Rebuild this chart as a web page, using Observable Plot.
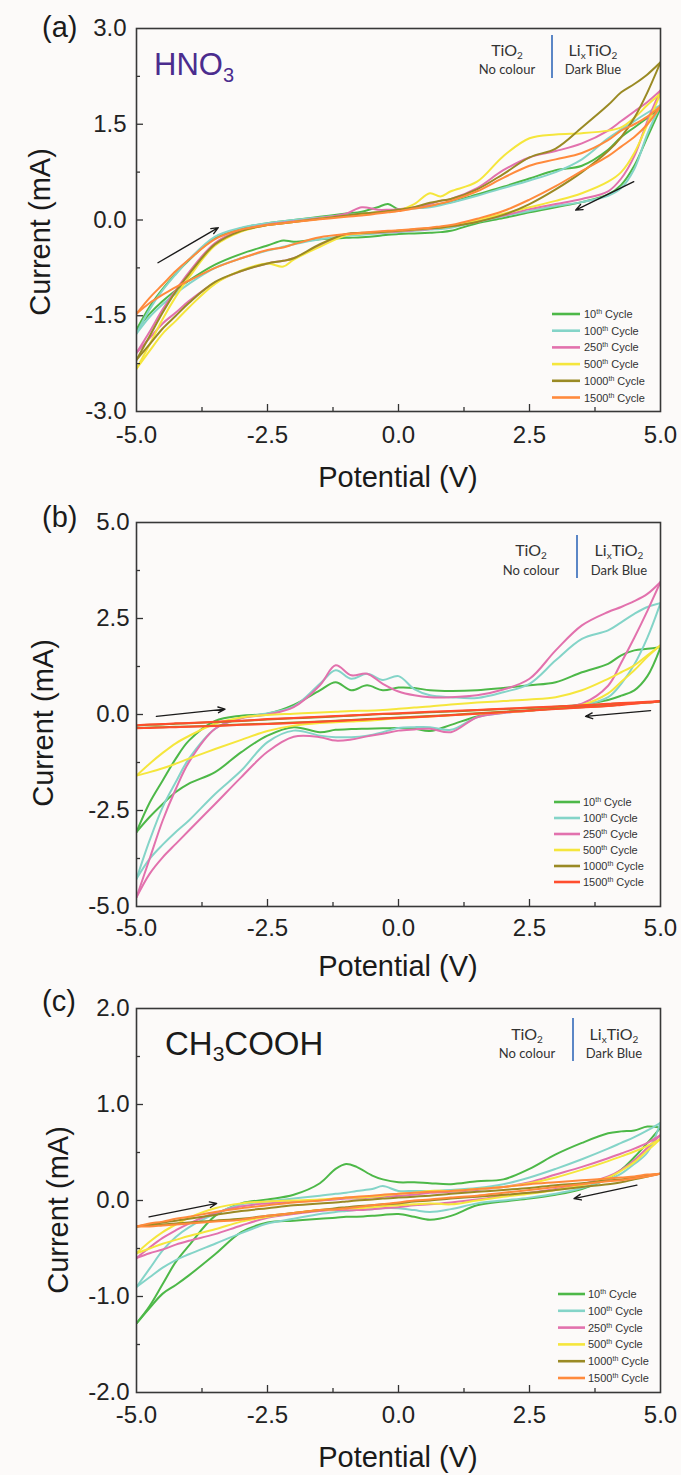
<!DOCTYPE html>
<html>
<head>
<meta charset="utf-8">
<script src="https://cdn.jsdelivr.net/npm/d3@7"></script>
<script src="https://cdn.jsdelivr.net/npm/@observablehq/plot@0.6"></script>
<style>
html, body { margin: 0; padding: 0; background: #ffffff; }
#chart { width: 681px; }
#chart svg { display: block; }
</style>
</head>
<body>
<div id="chart"></div>
<script>
// ---------- shared ----------
const cycles = ["10", "100", "250", "500", "1000", "1500"];
const xTicks = [-5, -2.5, 0, 2.5, 5];
const xMajorInner = [-2.5, 0, 2.5];
const xMinor = [-3.75, -1.25, 1.25, 3.75];
const coloursA = ["#4db848", "#84d4c8", "#e271ad", "#f5e63c", "#9a8a24", "#ff8a3c"];
const coloursB = ["#4db848", "#84d4c8", "#e271ad", "#f5e63c", "#9a8a24", "#ff4d2e"];
const coloursC = ["#4db848", "#84d4c8", "#e271ad", "#f5e63c", "#9a8a24", "#ff8a3c"];

// ---------- panel (a) HNO3 ----------
const potA = [-5, -4.75, -4.5, -4.25, -4, -3.5, -3, -2.5, -2.2, -2, -1.5, -1, -0.7, -0.4, -0.2, 0, 0.3, 0.6, 0.8, 1, 1.5, 2, 2.5, 3, 3.5, 4, 4.25, 4.5, 4.75, 5];
const yTicksA = [-3, -1.5, 0, 1.5, 3];
const yMinorA = [-2.25, -0.75, 0.75, 2.25];
const a10f = [-1.72, -1.36, -1.08, -0.84, -0.63, -0.28, -0.13, -0.05, -0.02, 0.0, 0.05, 0.1, 0.13, 0.2, 0.25, 0.17, 0.19, 0.22, 0.25, 0.28, 0.4, 0.52, 0.65, 0.78, 0.85, 1.1, 1.3, 1.45, 1.6, 1.75];
const a10r = [-1.72, -1.47, -1.27, -1.1, -0.95, -0.7, -0.53, -0.4, -0.32, -0.34, -0.3, -0.28, -0.27, -0.25, -0.23, -0.22, -0.21, -0.2, -0.19, -0.17, -0.05, 0.03, 0.12, 0.2, 0.28, 0.4, 0.55, 0.85, 1.3, 1.75];
const a100f = [-1.78, -1.4, -1.1, -0.85, -0.62, -0.26, -0.12, -0.05, -0.02, 0.0, 0.04, 0.08, 0.1, 0.12, 0.14, 0.16, 0.18, 0.2, 0.23, 0.27, 0.38, 0.5, 0.62, 0.75, 0.95, 1.28, 1.42, 1.55, 1.68, 1.8];
const a100r = [-1.78, -1.52, -1.32, -1.15, -1.0, -0.75, -0.6, -0.48, -0.42, -0.38, -0.3, -0.25, -0.23, -0.21, -0.2, -0.19, -0.17, -0.15, -0.14, -0.12, -0.03, 0.06, 0.14, 0.22, 0.28, 0.38, 0.5, 0.8, 1.35, 1.8];
const a250f = [-2.08, -1.75, -1.4, -1.1, -0.82, -0.36, -0.16, -0.07, -0.04, -0.02, 0.03, 0.1, 0.2, 0.16, 0.16, 0.17, 0.2, 0.25, 0.3, 0.33, 0.5, 0.78, 0.98, 1.08, 1.2, 1.4, 1.55, 1.7, 1.85, 2.03];
const a250r = [-2.08, -1.85, -1.62, -1.45, -1.27, -0.98, -0.8, -0.68, -0.64, -0.6, -0.4, -0.23, -0.21, -0.2, -0.19, -0.18, -0.16, -0.14, -0.12, -0.1, -0.02, 0.07, 0.17, 0.25, 0.33, 0.45, 0.65, 1.0, 1.55, 2.03];
const a500f = [-2.33, -1.95, -1.55, -1.2, -0.9, -0.4, -0.18, -0.08, -0.05, -0.03, 0.02, 0.06, 0.09, 0.12, 0.13, 0.15, 0.25, 0.42, 0.37, 0.45, 0.6, 1.0, 1.28, 1.34, 1.36, 1.4, 1.45, 1.6, 1.8, 1.98];
const a500r = [-2.33, -2.05, -1.78, -1.58, -1.37, -1.0, -0.79, -0.68, -0.73, -0.62, -0.42, -0.24, -0.21, -0.19, -0.18, -0.17, -0.15, -0.13, -0.12, -0.1, 0.0, 0.1, 0.2, 0.3, 0.42, 0.6, 0.75, 1.05, 1.5, 1.98];
const a1000f = [-2.19, -1.82, -1.45, -1.12, -0.85, -0.38, -0.17, -0.08, -0.05, -0.03, 0.02, 0.07, 0.1, 0.12, 0.14, 0.16, 0.2, 0.27, 0.3, 0.33, 0.48, 0.72, 0.98, 1.12, 1.45, 1.8, 2.0, 2.13, 2.28, 2.47];
const a1000r = [-2.19, -1.95, -1.7, -1.5, -1.3, -0.97, -0.8, -0.68, -0.64, -0.6, -0.38, -0.22, -0.2, -0.19, -0.18, -0.17, -0.15, -0.13, -0.12, -0.1, -0.03, 0.08, 0.25, 0.48, 0.75, 1.08, 1.3, 1.6, 2.0, 2.47];
const a1500f = [-1.47, -1.22, -1.01, -0.8, -0.62, -0.3, -0.15, -0.08, -0.05, -0.03, 0.01, 0.05, 0.07, 0.1, 0.12, 0.14, 0.18, 0.22, 0.26, 0.3, 0.45, 0.66, 0.85, 0.95, 1.05, 1.25, 1.4, 1.5, 1.62, 1.78];
const a1500r = [-1.47, -1.3, -1.17, -1.05, -0.95, -0.75, -0.6, -0.47, -0.43, -0.38, -0.27, -0.22, -0.2, -0.18, -0.17, -0.16, -0.14, -0.12, -0.1, -0.08, 0.02, 0.14, 0.32, 0.53, 0.77, 1.0, 1.15, 1.3, 1.5, 1.78];
const arrowsA = [[-4.59, -0.67, -3.44, -0.12], [4.49, 0.6, 3.38, 0.155]];

// ---------- panel (b) ----------
const potB = [-5, -4.75, -4.5, -4.25, -4, -3.5, -3, -2.5, -2, -1.5, -1.2, -0.9, -0.6, -0.3, 0, 0.3, 0.6, 1, 1.5, 2, 2.5, 3, 3.5, 4, 4.25, 4.5, 4.75, 5];
const yTicksB = [-5, -2.5, 0, 2.5, 5];
const yMinorB = [-3.75, -1.25, 1.25, 3.75];
const b10f = [-3.06, -2.3, -1.72, -1.15, -0.68, -0.17, -0.03, 0.02, 0.25, 0.63, 0.84, 0.63, 0.76, 0.63, 0.7, 0.69, 0.63, 0.61, 0.63, 0.69, 0.76, 0.84, 1.1, 1.32, 1.54, 1.67, 1.71, 1.75];
const b10r = [-3.06, -2.67, -2.33, -2.02, -1.8, -1.5, -0.98, -0.55, -0.33, -0.46, -0.4, -0.38, -0.37, -0.36, -0.35, -0.37, -0.43, -0.27, -0.05, 0.06, 0.1, 0.19, 0.26, 0.38, 0.49, 0.63, 1.0, 1.75];
const b100f = [-4.28, -3.28, -2.41, -1.76, -1.15, -0.37, -0.09, 0.03, 0.21, 0.8, 1.15, 0.93, 1.06, 0.9, 1.0, 0.66, 0.5, 0.45, 0.43, 0.58, 0.8, 1.41, 1.97, 2.19, 2.4, 2.62, 2.8, 2.9];
const b100r = [-4.28, -3.76, -3.39, -3.06, -2.76, -2.07, -1.46, -0.72, -0.42, -0.55, -0.59, -0.59, -0.55, -0.46, -0.35, -0.33, -0.33, -0.4, -0.07, 0.04, 0.1, 0.16, 0.23, 0.45, 0.8, 1.3, 2.0, 2.9];
const b250f = [-4.76, -3.76, -2.76, -1.94, -1.24, -0.37, -0.1, 0.0, 0.19, 0.76, 1.28, 1.02, 1.06, 0.8, 0.6, 0.5, 0.45, 0.45, 0.5, 0.65, 0.93, 1.67, 2.32, 2.67, 2.8, 2.95, 3.14, 3.45];
const b250r = [-4.76, -4.15, -3.72, -3.37, -3.02, -2.33, -1.63, -0.97, -0.58, -0.59, -0.68, -0.65, -0.57, -0.5, -0.42, -0.39, -0.37, -0.46, -0.07, 0.04, 0.1, 0.17, 0.28, 0.75, 1.35, 2.0, 2.7, 3.45];
const b500f = [-1.59, -1.28, -1.0, -0.75, -0.56, -0.24, -0.08, -0.01, 0.02, 0.05, 0.07, 0.09, 0.1, 0.12, 0.15, 0.18, 0.21, 0.26, 0.31, 0.35, 0.39, 0.45, 0.63, 0.93, 1.1, 1.28, 1.54, 1.8];
const b500r = [-1.59, -1.5, -1.4, -1.28, -1.15, -0.9, -0.66, -0.43, -0.29, -0.22, -0.2, -0.18, -0.16, -0.13, -0.1, -0.08, -0.05, -0.02, 0.02, 0.06, 0.1, 0.17, 0.25, 0.55, 0.85, 1.15, 1.5, 1.8];
const b1000f = [-0.29, -0.27, -0.26, -0.24, -0.23, -0.2, -0.17, -0.13, -0.1, -0.07, -0.05, -0.03, -0.01, 0.01, 0.02, 0.04, 0.06, 0.08, 0.11, 0.14, 0.17, 0.2, 0.23, 0.27, 0.29, 0.3, 0.32, 0.34];
const b1000r = [-0.35, -0.34, -0.33, -0.32, -0.31, -0.29, -0.26, -0.24, -0.21, -0.18, -0.16, -0.14, -0.12, -0.1, -0.08, -0.06, -0.04, -0.01, 0.03, 0.07, 0.11, 0.15, 0.19, 0.23, 0.26, 0.29, 0.31, 0.34];
const b1500f = [-0.28, -0.26, -0.25, -0.23, -0.22, -0.19, -0.16, -0.12, -0.09, -0.06, -0.04, -0.02, 0.0, 0.02, 0.03, 0.05, 0.07, 0.09, 0.12, 0.15, 0.18, 0.21, 0.24, 0.28, 0.3, 0.31, 0.33, 0.35];
const b1500r = [-0.36, -0.35, -0.34, -0.33, -0.32, -0.3, -0.27, -0.25, -0.22, -0.19, -0.17, -0.15, -0.13, -0.11, -0.09, -0.07, -0.05, -0.02, 0.02, 0.06, 0.1, 0.14, 0.18, 0.22, 0.25, 0.28, 0.31, 0.35];
const arrowsB = [[-4.62, -0.05, -3.31, 0.14], [4.81, 0.1, 3.57, -0.05]];

// ---------- panel (c) CH3COOH ----------
const potC = [-5, -4.75, -4.5, -4.25, -4, -3.5, -3, -2.5, -2, -1.5, -1.2, -1, -0.8, -0.5, -0.3, 0, 0.3, 0.6, 1, 1.5, 2, 2.5, 3, 3.5, 4, 4.25, 4.5, 4.75, 5];
const yTicksC = [-2, -1, 0, 1, 2];
const yMinorC = [-1.5, -0.5, 0.5, 1.5];
const c10f = [-1.28, -1.1, -0.87, -0.64, -0.47, -0.16, -0.03, 0.01, 0.06, 0.18, 0.33, 0.38, 0.35, 0.26, 0.22, 0.19, 0.19, 0.18, 0.17, 0.2, 0.22, 0.33, 0.48, 0.6, 0.7, 0.72, 0.73, 0.77, 0.76];
const c10r = [-1.28, -1.12, -0.97, -0.88, -0.78, -0.56, -0.33, -0.23, -0.21, -0.19, -0.18, -0.17, -0.17, -0.16, -0.15, -0.14, -0.17, -0.2, -0.16, -0.05, -0.01, 0.02, 0.06, 0.12, 0.23, 0.32, 0.45, 0.6, 0.76];
const c100f = [-0.9, -0.71, -0.52, -0.38, -0.28, -0.14, -0.04, -0.01, 0.02, 0.05, 0.07, 0.08, 0.1, 0.12, 0.15, 0.1, 0.1, 0.1, 0.11, 0.13, 0.17, 0.24, 0.33, 0.43, 0.54, 0.6, 0.66, 0.73, 0.81];
const c100r = [-0.9, -0.8, -0.7, -0.62, -0.56, -0.45, -0.34, -0.24, -0.19, -0.14, -0.12, -0.11, -0.1, -0.09, -0.08, -0.08, -0.1, -0.12, -0.09, -0.03, 0.0, 0.03, 0.07, 0.13, 0.22, 0.28, 0.38, 0.5, 0.81];
const c250f = [-0.6, -0.49, -0.39, -0.31, -0.24, -0.13, -0.06, -0.03, -0.01, 0.0, 0.01, 0.02, 0.02, 0.03, 0.04, 0.05, 0.06, 0.08, 0.09, 0.11, 0.14, 0.19, 0.27, 0.35, 0.44, 0.49, 0.54, 0.6, 0.68];
const c250r = [-0.6, -0.55, -0.51, -0.46, -0.42, -0.35, -0.26, -0.18, -0.14, -0.11, -0.1, -0.1, -0.1, -0.09, -0.08, -0.07, -0.05, -0.04, -0.02, 0.01, 0.05, 0.08, 0.12, 0.17, 0.25, 0.32, 0.42, 0.55, 0.68];
const c500f = [-0.55, -0.43, -0.33, -0.25, -0.18, -0.08, -0.03, -0.01, 0.0, 0.01, 0.02, 0.03, 0.03, 0.04, 0.05, 0.07, 0.08, 0.1, 0.1, 0.12, 0.14, 0.18, 0.24, 0.32, 0.41, 0.46, 0.51, 0.57, 0.64];
const c500r = [-0.55, -0.5, -0.45, -0.41, -0.37, -0.3, -0.22, -0.17, -0.13, -0.1, -0.09, -0.08, -0.08, -0.07, -0.06, -0.05, -0.04, -0.03, -0.04, 0.0, 0.04, 0.07, 0.11, 0.16, 0.24, 0.31, 0.4, 0.52, 0.64];
const c1000f = [-0.27, -0.25, -0.23, -0.21, -0.19, -0.15, -0.11, -0.08, -0.05, -0.03, -0.02, -0.01, 0.0, 0.01, 0.02, 0.03, 0.04, 0.05, 0.07, 0.09, 0.11, 0.13, 0.16, 0.18, 0.21, 0.22, 0.24, 0.26, 0.28];
const c1000r = [-0.27, -0.26, -0.25, -0.24, -0.23, -0.21, -0.19, -0.16, -0.13, -0.1, -0.08, -0.07, -0.06, -0.05, -0.04, -0.03, -0.01, 0.0, 0.02, 0.04, 0.06, 0.08, 0.11, 0.14, 0.17, 0.19, 0.22, 0.25, 0.28];
const c1500f = [-0.27, -0.24, -0.22, -0.19, -0.17, -0.12, -0.08, -0.05, -0.02, 0.0, 0.02, 0.03, 0.04, 0.05, 0.06, 0.07, 0.08, 0.09, 0.1, 0.12, 0.14, 0.17, 0.19, 0.21, 0.23, 0.24, 0.25, 0.27, 0.28];
const c1500r = [-0.27, -0.27, -0.26, -0.25, -0.24, -0.22, -0.2, -0.16, -0.13, -0.1, -0.09, -0.08, -0.07, -0.05, -0.04, -0.02, 0.0, 0.01, 0.03, 0.05, 0.08, 0.11, 0.14, 0.17, 0.2, 0.21, 0.23, 0.25, 0.28];
const arrowsC = [[-4.76, -0.17, -3.47, -0.03], [4.55, 0.16, 3.35, 0.02]];

// ---------- drawing ----------
const FONT = "'Liberation Sans', Arial, Helvetica, sans-serif";
const NOTE_FONT = "Lato, 'Open Sans', sans-serif";
const BG = "#fcfaf9";
const fmt = d => d.toFixed(1);

function drawPanel(o) {
  const W = 681, ML = 136, MR = 21;
  const pw = W - ML - MR, ph = o.height - o.mt - o.mb;
  const rows = [];
  cycles.forEach((c, k) => {
    const [f, r] = o.series[k];
    o.pot.forEach((v, i) => rows.push({V: v, I: f[i], cycle: c, key: c + "-fwd"}));
    o.pot.forEach((v, i) => rows.push({V: v, I: r[i], cycle: c, key: c + "-rev"}));
  });
  const arrows = o.arrows.map(([x1, y1, x2, y2]) => ({x1, y1, x2, y2}));
  const yMajorInner = o.yTicks.slice(1, -1);
  const svg = Plot.plot({
    width: W, height: o.height,
    marginLeft: ML, marginRight: MR, marginTop: o.mt, marginBottom: o.mb,
    style: {background: BG, fontFamily: FONT, fontSize: "24px", color: "#222"},
    x: {domain: [-5, 5], ticks: xTicks, tickFormat: fmt, tickSize: 0, tickPadding: o.xPad, label: null},
    y: {domain: [o.yTicks[0], o.yTicks[o.yTicks.length - 1]], ticks: o.yTicks, tickFormat: fmt, tickSize: 0, tickPadding: o.yPad, label: null},
    color: {domain: cycles, range: o.colours},
    marks: [
      Plot.line(rows, {x: "V", y: "I", z: "key", stroke: "cycle", strokeWidth: 2, curve: "catmull-rom", clip: true}),
      Plot.arrow(arrows, {x1: "x1", y1: "y1", x2: "x2", y2: "y2", stroke: "#1b1b1b", strokeWidth: 1.4, headLength: 8, headAngle: 45}),
      Plot.tickX(xMinor, {x: d => d, insetTop: ph - 4, stroke: "#333", strokeWidth: 1.3}),
      Plot.tickX(xMajorInner, {x: d => d, insetTop: ph - 7, stroke: "#333", strokeWidth: 1.3}),
      Plot.tickY(o.yMinor, {y: d => d, insetRight: pw - 4, stroke: "#333", strokeWidth: 1.3}),
      Plot.tickY(yMajorInner, {y: d => d, insetRight: pw - 7, stroke: "#333", strokeWidth: 1.3}),
      Plot.frame({stroke: "#383838", strokeWidth: 1.6})
    ]
  });
  const s = d3.select(svg);
  const bottom = o.height - o.mb;

  // panel letter
  s.append("text").attr("x", 42).attr("y", o.letterY).attr("text-anchor", "start").attr("font-family", FONT)
    .attr("font-size", 29).attr("fill", "#1a1a1a").text(o.letter);

  // axis titles
  s.append("text").attr("x", ML + pw / 2).attr("y", o.xTitleY).attr("text-anchor", "middle")
    .attr("font-family", FONT).attr("font-size", 29).attr("fill", "#1a1a1a").text("Potential (V)");
  s.append("text").attr("transform", `translate(${o.yTitleX},${o.yTitleCY}) rotate(-90)`)
    .attr("text-anchor", "middle").attr("font-family", FONT).attr("font-size", 29)
    .attr("fill", "#1a1a1a").text("Current (mA)");

  // electrolyte title
  if (o.title) {
    const t = s.append("text").attr("x", o.title.x).attr("y", o.title.y).attr("text-anchor", "start")
      .attr("font-family", FONT).attr("font-size", o.title.size).attr("fill", o.title.fill);
    o.title.parts.forEach(([txt, sub], i) => {
      const prevSub = i > 0 && o.title.parts[i - 1][1];
      const ts = t.append("tspan").text(txt);
      if (sub) ts.attr("font-size", Math.round(o.title.size * 0.64)).attr("dy", o.title.subDy);
      else if (prevSub) ts.attr("dy", -o.title.subDy);
    });
  }

  // TiO2 | LixTiO2 note
  const n = o.note;
  const g = s.append("g").attr("font-family", NOTE_FONT).attr("fill", "#333").attr("text-anchor", "middle");
  g.append("line").attr("x1", n.lx).attr("x2", n.lx).attr("y1", n.y1).attr("y2", n.y2)
    .attr("stroke", "#5b86c6").attr("stroke-width", 2);
  const t1 = g.append("text").attr("x", n.left).attr("y", n.b1).attr("font-size", 16);
  t1.append("tspan").text("TiO");
  t1.append("tspan").attr("font-size", 10).attr("dy", 3).text("2");
  g.append("text").attr("x", n.left).attr("y", n.b2).attr("font-size", 13).text("No colour");
  const t2 = g.append("text").attr("x", n.right).attr("y", n.b1).attr("font-size", 16);
  t2.append("tspan").text("Li");
  t2.append("tspan").attr("font-size", 10).attr("dy", 3).text("x");
  t2.append("tspan").attr("dy", -3).text("TiO");
  t2.append("tspan").attr("font-size", 10).attr("dy", 3).text("2");
  g.append("text").attr("x", n.right).attr("y", n.b2).attr("font-size", 13).text("Dark Blue");

  // legend
  const L = o.legend;
  const lg = s.append("g").attr("font-family", FONT).attr("font-size", 11).attr("fill", "#333").attr("text-anchor", "start");
  cycles.forEach((c, k) => {
    const y = bottom - L.fromBottom + k * L.dy;
    lg.append("line").attr("x1", L.x1).attr("x2", L.x2).attr("y1", y).attr("y2", y)
      .attr("stroke", o.colours[k]).attr("stroke-width", 2.6);
    const t = lg.append("text").attr("x", L.tx).attr("y", y + 4);
    t.append("tspan").text(c);
    t.append("tspan").attr("font-size", 7).attr("dy", -4).text("th");
    t.append("tspan").attr("dy", 4).attr("dx", 3).text("Cycle");
  });

  document.getElementById("chart").appendChild(svg);
}

drawPanel({
  letter: "(a)", letterY: 37, height: 496, mt: 28, mb: 85, xPad: 14, yPad: 10,
  pot: potA, yTicks: yTicksA, yMinor: yMinorA, colours: coloursA, arrows: arrowsA,
  series: [[a10f, a10r], [a100f, a100r], [a250f, a250r], [a500f, a500r], [a1000f, a1000r], [a1500f, a1500r]],
  xTitleY: 487, yTitleX: 50, yTitleCY: 232,
  title: {x: 154, y: 75, size: 31, fill: "#4b2c8e", subDy: 7, parts: [["HNO", false], ["3", true]]},
  note: {lx: 552, y1: 35, y2: 78, left: 507, right: 593, b1: 56, b2: 74},
  legend: {x1: 552, x2: 580, tx: 584, fromBottom: 97, dy: 16.7}
});

drawPanel({
  letter: "(b)", letterY: 31, height: 490, mt: 26, mb: 80, xPad: 12, yPad: 7,
  pot: potB, yTicks: yTicksB, yMinor: yMinorB, colours: coloursB, arrows: arrowsB,
  series: [[b10f, b10r], [b100f, b100r], [b250f, b250r], [b500f, b500r], [b1000f, b1000r], [b1500f, b1500r]],
  xTitleY: 480, yTitleX: 53, yTitleCY: 227,
  title: null,
  note: {lx: 577, y1: 39, y2: 82, left: 531, right: 619, b1: 60, b2: 79},
  legend: {x1: 554, x2: 580, tx: 583, fromBottom: 104, dy: 16}
});

drawPanel({
  letter: "(c)", letterY: 25, height: 489, mt: 22, mb: 83, xPad: 13, yPad: 7,
  pot: potC, yTicks: yTicksC, yMinor: yMinorC, colours: coloursC, arrows: arrowsC,
  series: [[c10f, c10r], [c100f, c100r], [c250f, c250r], [c500f, c500r], [c1000f, c1000r], [c1500f, c1500r]],
  xTitleY: 481, yTitleX: 68, yTitleCY: 224,
  title: {x: 165, y: 69, size: 33, fill: "#1a1a1a", subDy: 6, parts: [["CH", false], ["3", true], ["COOH", false]]},
  note: {lx: 573, y1: 32, y2: 75, left: 527, right: 614, b1: 54, b2: 72},
  legend: {x1: 558, x2: 585, tx: 588, fromBottom: 98, dy: 16.8}
});
</script>
</body>
</html>
